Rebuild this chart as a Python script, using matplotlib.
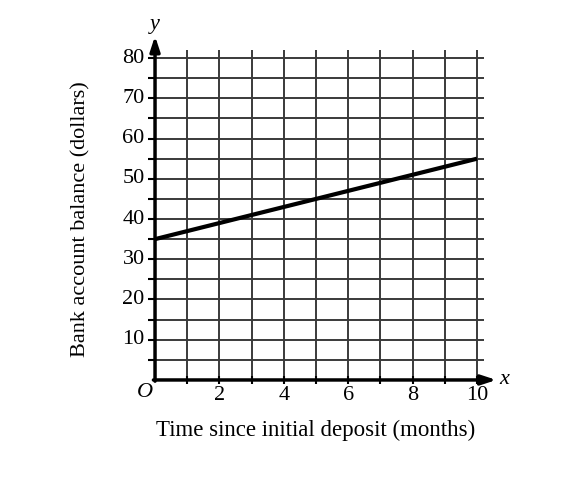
import matplotlib.pyplot as plt
import numpy as np

# balance line: starts at $35, reaches $55 after 10 months
months = [0, 10]
balance = [35, 55]

x_grid = list(range(1, 11))
y_grid = list(range(5, 85, 5))
x_labels = [2, 4, 6, 8, 10]
y_labels = [10, 20, 30, 40, 50, 60, 70, 80]

plt.rcParams['font.family'] = ['Liberation Serif', 'DejaVu Serif']
plt.rcParams['font.size'] = 16

fig = plt.figure(figsize=(5.62, 4.78), dpi=100)
ax = fig.add_axes([0.2472, 0.163, 0.659, 0.766])
ax.set_xlim(-0.5, 11)
ax.set_ylim(-5, 86)
ax.axis('off')

gc = '#3a3a3a'
ax.vlines(x_grid, 0, 82, color=gc, lw=1.4)
ax.hlines(y_grid, 0, 10.2, color=gc, lw=1.4)

# tick marks
ax.hlines(y_grid, -0.22, 0, color='black', lw=1.5)
ax.vlines(x_grid, -1.1, 1.1, color='black', lw=1.5)

# axes with arrows
ax.annotate('', xy=(0, 85.5), xytext=(0, -0.3),
            arrowprops=dict(arrowstyle='-|>,head_length=0.55,head_width=0.18',
                            color='black', lw=2.5, shrinkA=0, shrinkB=0))
ax.annotate('', xy=(10.6, 0), xytext=(-0.05, 0),
            arrowprops=dict(arrowstyle='-|>,head_length=0.55,head_width=0.18',
                            color='black', lw=2.5, shrinkA=0, shrinkB=0))

for v in x_labels:
    ax.text(v, -1.6, str(v), ha='center', va='top', fontsize=16)
for v in y_labels:
    ax.text(-0.32, v, str(v), ha='right', va='center', fontsize=16)

ax.text(-0.05, -0.8, 'O', ha='right', va='top', fontsize=16, style='italic')
ax.text(0, 86.0, 'y', ha='center', va='bottom', fontsize=16, style='italic')
ax.text(10.7, 0, 'x', ha='left', va='center', fontsize=16, style='italic')

ax.plot(months, balance, color='black', lw=3, solid_capstyle='butt')

ax.text(5, -10.0, 'Time since initial deposit (months)', ha='center', va='top', fontsize=16.5)
ax.text(-2.3, 40, 'Bank account balance (dollars)', ha='center', va='center',
        rotation=90, fontsize=16)

plt.savefig('out.png', dpi=100)
